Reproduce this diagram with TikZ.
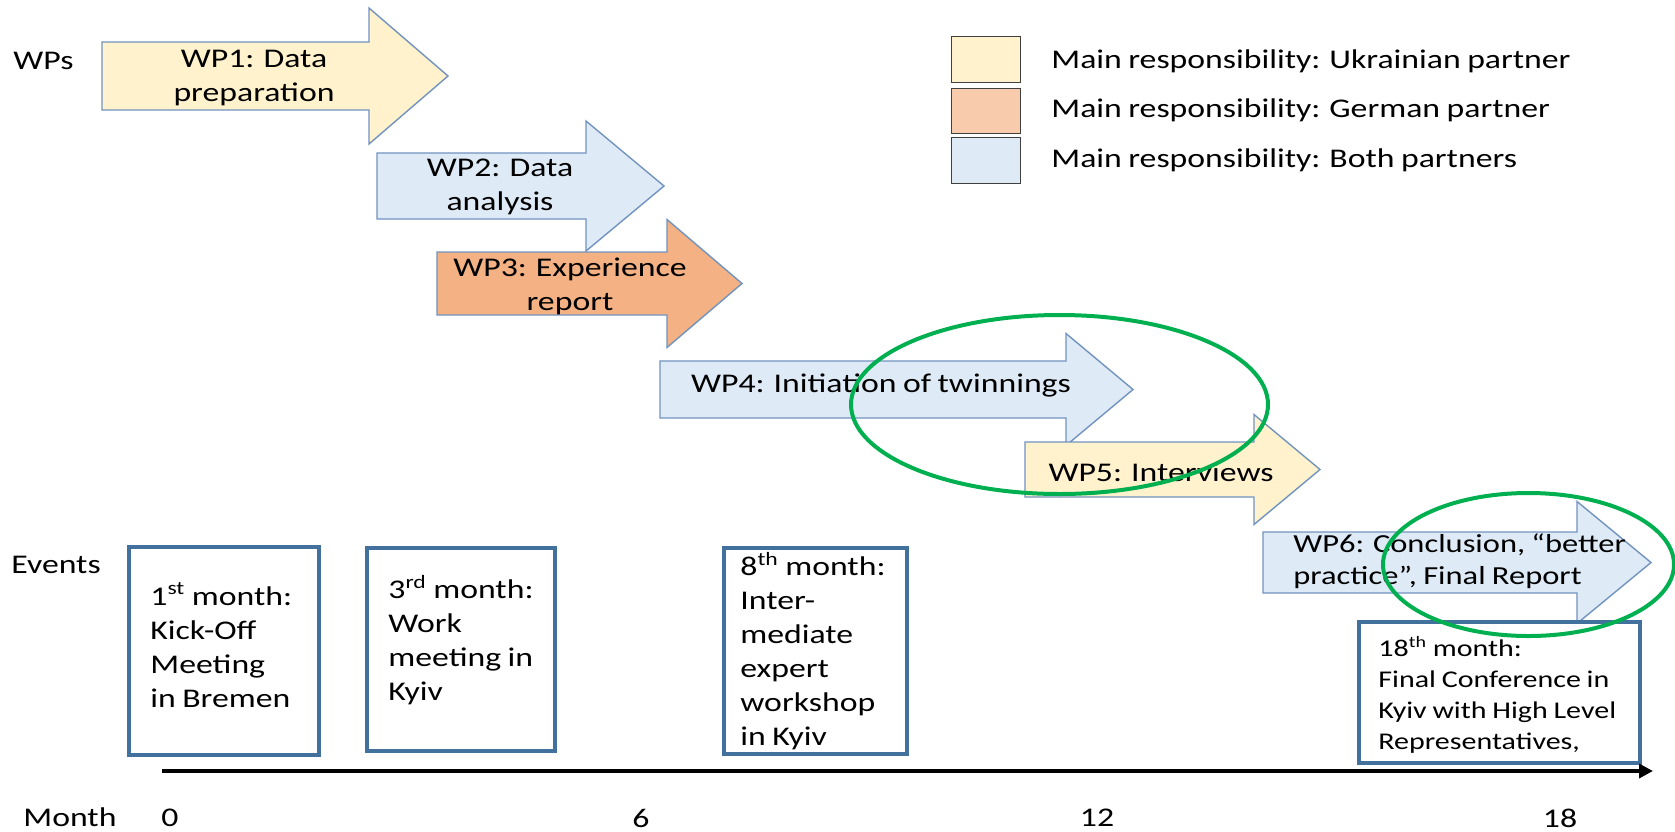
\documentclass[tikz,border=0pt]{standalone}
\usepackage{fontspec}
\setmainfont{Carlito}[FakeStretch=1.25, WordSpace=0.85]
\usepackage{tikz}
\usetikzlibrary{arrows.meta}
\definecolor{ukrfill}{HTML}{FFF2CC}
\definecolor{gerfill}{HTML}{F8CBAD}
\definecolor{gerdark}{HTML}{F4B183}
\definecolor{bothfill}{HTML}{DEEBF7}
\definecolor{wpline}{HTML}{7193C0}
\definecolor{boxline}{HTML}{41719C}
\definecolor{ringgreen}{HTML}{00B050}
\def\wparrow[#1](#2,#3,#4)(#5,#6,#7){\draw[#1] (#2,#3) -- (#5,#3) -- (#5,{(#3+#4)/2-#6}) -- (#7,{(#3+#4)/2}) -- (#5,{(#3+#4)/2+#6}) -- (#5,#4) -- (#2,#4) -- cycle;}
\tikzset{
	wp/.style={draw=wpline, line width=0.7pt},
	label/.style={inner sep=0pt, font=\fontsize{13.5}{17}\selectfont},
	wptext/.style={label, align=center},
	eventtext/.style={label, align=left, anchor=west},
	eventbox/.style={draw=boxline, line width=2pt},
	legendbox/.style={draw=black!75, line width=0.5pt},
	ring/.style={draw=ringgreen, line width=2pt},
}

\begin{document}
\begin{tikzpicture}[x=0.5pt, y=-0.5pt]
		%%%%% START %%%%%
		
		\path[use as bounding box, fill=white] (0,0) rectangle (1675,831);
		
		% row labels
		\node[label, anchor=west] (wps) at (13,61) {WPs};
		\node[label, anchor=west] (events) at (11,565) {Events};
		\node[label, anchor=west] (month) at (23,817) {Month};
		
		% work packages
		\wparrow[wp, fill=ukrfill](102,42,110)(369,68,448)
		\wparrow[wp, fill=bothfill](377,153,219)(586,65,664)
		\wparrow[wp, fill=gerdark](437,252,315)(667,64,742)
		\wparrow[wp, fill=bothfill](660,361,418)(1066,56,1133)
		\wparrow[wp, fill=ukrfill](1025,442,497)(1254,55,1320)
		\wparrow[wp, fill=bothfill](1263,532,593)(1577,61,1651)
		
		\node[wptext] (wp1) at (254,78) {WP1: Data\\preparation};
		\node[wptext] (wp2) at (500,187) {WP2: Data\\analysis};
		\node[wptext] (wp3) at (570,286) {WP3: Experience\\report};
		\node[wptext] (wp4) at (881,385) {WP4: Initiation of twinnings};
		\node[wptext] (wp5) at (1161,472) {WP5: Interviews};
		\node[wptext, align=left, anchor=west, font=\fontsize{13}{16}\selectfont] (wp6) at (1293,561) {WP6: Conclusion, “better\\practice”, Final Report};
		
		% legend
		\draw[legendbox, fill=ukrfill] (951,36) rectangle (1020,82);
		\draw[legendbox, fill=gerfill] (951,88) rectangle (1020,133);
		\draw[legendbox, fill=bothfill] (951,137) rectangle (1020,183);
		\node[label, anchor=west] (key1) at (1051,61) {Main responsibility: Ukrainian partner};
		\node[label, anchor=west] (key2) at (1051,110) {Main responsibility: German partner};
		\node[label, anchor=west] (key3) at (1051,160) {Main responsibility: Both partners};
		
		% events
		\draw[eventbox] (129,547) rectangle (319,755);
		\draw[eventbox] (367,548) rectangle (555,751);
		\draw[eventbox] (724,548) rectangle (907,754);
		\draw[eventbox, fill=white] (1359,622) rectangle (1640,763);
		\node[eventtext] (ev1) at (150,645) {1\textsuperscript{st} month:\\Kick-Off\\Meeting\\in Bremen};
		\node[eventtext] (ev3) at (388,640) {3\textsuperscript{rd} month:\\Work\\meeting in\\Kyiv};
		\node[eventtext] (ev8) at (740,651) {8\textsuperscript{th} month:\\Inter-\\mediate\\expert\\workshop\\in Kyiv};
		\node[eventtext, font=\fontsize{12}{15.5}\selectfont] (ev18) at (1378,695) {18\textsuperscript{th} month:\\Final Conference in\\Kyiv with High Level\\Representatives,};
		
		% time axis
		\coordinate (axis start) at (162,771);
		\coordinate (axis end) at (1653,771);
		\draw[line width=2pt, -{Triangle[length=7pt, width=7pt]}] (axis start) -- (axis end);
		\node[label] (m0) at (170,818) {0};
		\node[label] (m6) at (641,818) {6};
		\node[label] (m12) at (1097,818) {12};
		\node[label] (m18) at (1560,818) {18};
		
		% highlights
		\draw[ring] (1059.5,404.5) ellipse [x radius=208.5, y radius=89.5];
		\draw[ring] (1528.5,564.5) ellipse [x radius=145.5, y radius=71.5];
		
		%%%%% END %%%%%
	\end{tikzpicture}
\end{document}
